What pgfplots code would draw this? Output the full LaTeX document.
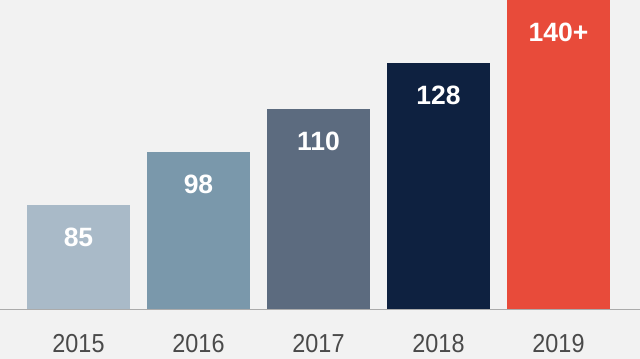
\documentclass[border=0pt]{standalone}
\usepackage{pgfplots}
\pgfplotsset{compat=1.18}
\usepackage{fontspec}
\setmainfont{Liberation Sans}
\newfontfamily\yearfont[FakeStretch=0.9]{Liberation Sans}
\definecolor{bg}{HTML}{F2F2F2}
\definecolor{cA}{HTML}{A9BAC8}
\definecolor{cB}{HTML}{7A98AB}
\definecolor{cC}{HTML}{5C6B7F}
\definecolor{cD}{HTML}{0E2140}
\definecolor{cE}{HTML}{E84B3A}
\definecolor{yeargray}{HTML}{4A4A4A}
\definecolor{basegray}{HTML}{ABABAB}
\begin{document}
\begin{tikzpicture}
\useasboundingbox (0,-50bp) rectangle (640bp,309bp);
\fill[bg] (0,-50bp) rectangle (640bp,309bp);
\begin{axis}[
  scale only axis,
  width=640bp, height=309bp,
  xmin=-0.65417, xmax=4.67917,
  ymin=0, ymax=309,
  axis y line=none,
  axis x line=bottom,
  x axis line style={-, color=basegray, line width=1bp},
  xtick={0,1,2,3,4},
  xticklabels={2015,2016,2017,2018,2019},
  major tick length=0pt,
  xticklabel style={anchor=center, yshift=-34.5bp, font=\yearfont\fontsize{26bp}{30bp}\selectfont, text=yeargray},
  ybar, bar width=103bp, bar shift=0pt,
  point meta=explicit symbolic,
  nodes near coords,
  every node near coord/.append style={anchor=center, yshift=-32bp, text=white, font=\bfseries\fontsize{26.5bp}{30bp}\selectfont},
  clip=false,
]
\addplot[fill=cA, draw=none] coordinates {(0,104) [85]};
\addplot[fill=cB, draw=none] coordinates {(1,157) [98]};
\addplot[fill=cC, draw=none] coordinates {(2,200) [110]};
\addplot[fill=cD, draw=none] coordinates {(3,246) [128]};
\addplot[fill=cE, draw=none] coordinates {(4,309) [140+]};
\end{axis}
\end{tikzpicture}
\end{document}
